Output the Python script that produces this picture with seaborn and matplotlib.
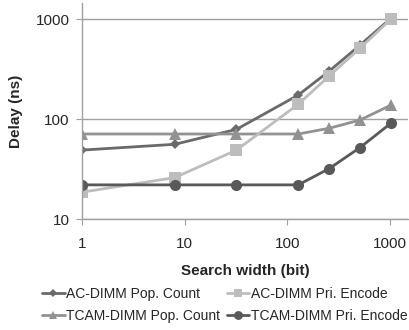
import numpy as np
import pandas as pd
import seaborn as sns
import matplotlib.pyplot as plt

# search widths (bit)
widths = [1, 8, 32, 128, 256, 512, 1024]

# delay (ns) per series
ac_pop = [49, 56, 79, 174, 302, 550, 1020]
ac_pri = [18.6, 26, 49, 141, 270, 513, 1000]
tcam_pop = [71, 71, 71, 71, 81, 98, 138]
tcam_pri = [22, 22, 22, 22, 32, 52, 91]

series = [
    ("AC-DIMM Pop. Count", ac_pop, "D", "#6a6a6a", 5),
    ("TCAM-DIMM Pop. Count", tcam_pop, "^", "#929292", 8),
    ("AC-DIMM Pri. Encode", ac_pri, "s", "#bdbdbd", 8),
    ("TCAM-DIMM Pri. Encode", tcam_pri, "o", "#595959", 8),
]

sns.set_style("white")
plt.rcParams["font.family"] = ["Liberation Sans", "DejaVu Sans"]

fig = plt.figure(figsize=(4.09, 3.30), dpi=100)
ax = fig.add_axes([0.2005, 0.336, 0.797, 0.655])

for name, vals, mk, col, ms in series:
    df = pd.DataFrame({"w": widths, "d": vals})
    sns.lineplot(data=df, x="w", y="d", ax=ax, marker=mk, color=col,
                 markersize=ms, markeredgewidth=0, linewidth=2, label=name)

ax.set_xscale("log")
ax.set_yscale("log")
ax.set_xlim(1, 1500)
ax.set_ylim(10, 1450)
ax.set_xticks([1, 10, 100, 1000])
ax.set_xticklabels(["1", "10", "100", "1000"])
ax.set_yticks([10, 100, 1000])
ax.set_yticklabels(["10", "100", "1000"])
ax.minorticks_off()
ax.yaxis.grid(True, color="#a0a0a0", linewidth=1)
ax.xaxis.grid(False)
for s in ["top", "right"]:
    ax.spines[s].set_visible(False)
for s in ["left", "bottom"]:
    ax.spines[s].set_color("#a0a0a0")
    ax.spines[s].set_linewidth(1)
ax.tick_params(axis="both", direction="out", length=4, color="#a0a0a0",
               labelsize=11, bottom=True, left=True)
ax.tick_params(axis="x", pad=9)
ax.tick_params(axis="y", pad=5)

ax.set_xlabel("Search width (bit)", fontsize=11, fontweight="bold", labelpad=9)
ax.set_ylabel("Delay (ns)", fontsize=11, fontweight="bold", labelpad=9)

ax.get_legend().remove()
handles, labels = ax.get_legend_handles_labels()
fig.legend(handles, labels, loc="upper left", bbox_to_anchor=(42 / 409, 1 - 287 / 330),
           ncol=2, frameon=False, fontsize=10, handlelength=1.65, handletextpad=0.1,
           columnspacing=0.45, labelspacing=0.6, markerscale=0.8,
           borderpad=0, borderaxespad=0)

fig.savefig("out.png", dpi=100)
